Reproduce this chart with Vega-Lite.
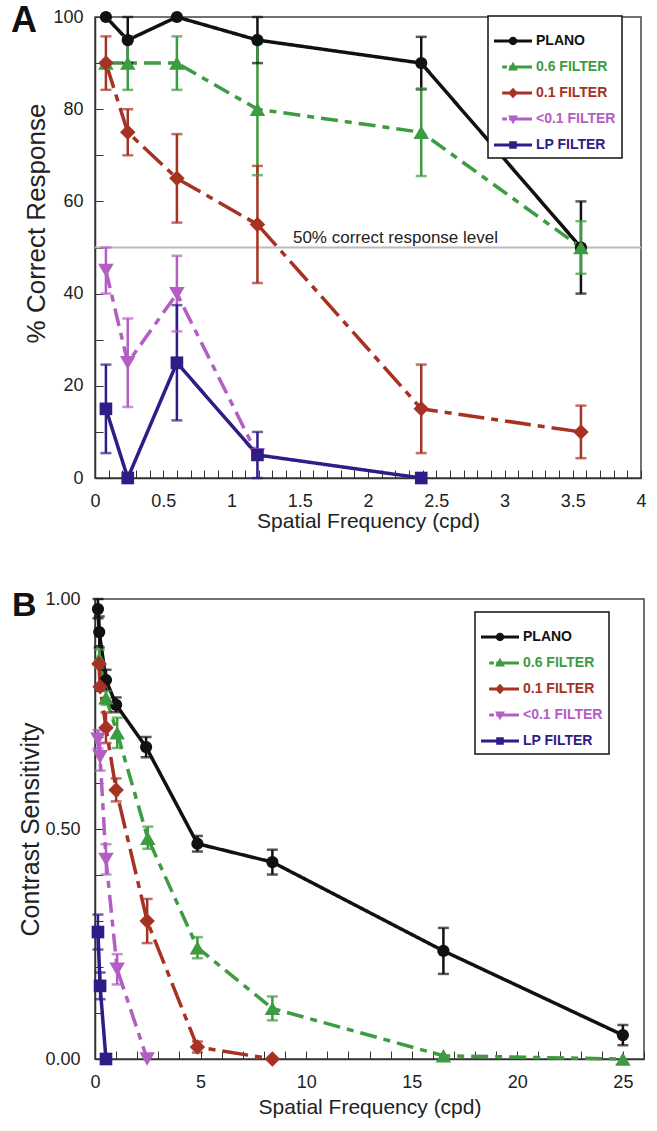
{
  "$schema": "https://vega.github.io/schema/vega-lite/v6.json",
  "padding": {"left": 10, "top": 2, "right": 5, "bottom": 3},
  "background": "white",
  "config": {
    "font": "Liberation Sans",
    "view": {"stroke": "#444444", "strokeWidth": 1.5},
    "axis": {"labelFont": "Liberation Sans", "titleFont": "Liberation Sans", "labelFontSize": 18, "labelColor": "#222222", "titleFontSize": 21, "titleFontWeight": "normal", "titleColor": "#222222", "domainColor": "#333333", "domainWidth": 1.5, "tickColor": "#333333", "tickWidth": 1, "tickSize": -8, "grid": false, "labelOverlap": false, "labelFlush": false, "labelBound": false}
  },
  "datasets": {
    "a": [
      {"series": "PLANO", "x": 0.08, "y": 100},
      {"series": "PLANO", "x": 0.24, "y": 95, "lo": 90, "hi": 100},
      {"series": "PLANO", "x": 0.6, "y": 100},
      {"series": "PLANO", "x": 1.19, "y": 95, "lo": 90, "hi": 100},
      {"series": "PLANO", "x": 2.39, "y": 90, "lo": 84.3, "hi": 95.7},
      {"series": "PLANO", "x": 3.56, "y": 50, "lo": 40, "hi": 60},
      {"series": "0.6 FILTER", "x": 0.08, "y": 90},
      {"series": "0.6 FILTER", "x": 0.24, "y": 90, "lo": 84.2, "hi": 95.8},
      {"series": "0.6 FILTER", "x": 0.6, "y": 90, "lo": 84.2, "hi": 95.8},
      {"series": "0.6 FILTER", "x": 1.19, "y": 80, "lo": 65.7, "hi": 94.3},
      {"series": "0.6 FILTER", "x": 2.39, "y": 75, "lo": 65.5, "hi": 84.5},
      {"series": "0.6 FILTER", "x": 3.56, "y": 50, "lo": 44.3, "hi": 55.7},
      {"series": "0.1 FILTER", "x": 0.08, "y": 90, "lo": 84.2, "hi": 95.8},
      {"series": "0.1 FILTER", "x": 0.24, "y": 75, "lo": 70, "hi": 80},
      {"series": "0.1 FILTER", "x": 0.6, "y": 65, "lo": 55.4, "hi": 74.6},
      {"series": "0.1 FILTER", "x": 1.19, "y": 55, "lo": 42.3, "hi": 67.7},
      {"series": "0.1 FILTER", "x": 2.39, "y": 15, "lo": 5.4, "hi": 24.6},
      {"series": "0.1 FILTER", "x": 3.56, "y": 10, "lo": 4.3, "hi": 15.7},
      {"series": "<0.1 FILTER", "x": 0.08, "y": 45, "lo": 40, "hi": 50},
      {"series": "<0.1 FILTER", "x": 0.24, "y": 25, "lo": 15.4, "hi": 34.6},
      {"series": "<0.1 FILTER", "x": 0.6, "y": 40, "lo": 31.8, "hi": 48.2},
      {"series": "<0.1 FILTER", "x": 1.19, "y": 5},
      {"series": "LP FILTER", "x": 0.08, "y": 15, "lo": 5.4, "hi": 24.6},
      {"series": "LP FILTER", "x": 0.24, "y": 0},
      {"series": "LP FILTER", "x": 0.6, "y": 25, "lo": 12.5, "hi": 37.5},
      {"series": "LP FILTER", "x": 1.19, "y": 5, "lo": 0, "hi": 10},
      {"series": "LP FILTER", "x": 2.39, "y": 0}
    ],
    "b": [
      {"series": "PLANO", "x": 0.14, "y": 0.978, "lo": 0.958, "hi": 1.0},
      {"series": "PLANO", "x": 0.2, "y": 0.928, "lo": 0.895, "hi": 0.962},
      {"series": "PLANO", "x": 0.52, "y": 0.824, "lo": 0.802, "hi": 0.846},
      {"series": "PLANO", "x": 1.0, "y": 0.77, "lo": 0.754, "hi": 0.786},
      {"series": "PLANO", "x": 2.42, "y": 0.678, "lo": 0.656, "hi": 0.7},
      {"series": "PLANO", "x": 4.85, "y": 0.468, "lo": 0.451, "hi": 0.485},
      {"series": "PLANO", "x": 8.4, "y": 0.428, "lo": 0.401, "hi": 0.455},
      {"series": "PLANO", "x": 16.5, "y": 0.235, "lo": 0.185, "hi": 0.285},
      {"series": "PLANO", "x": 25, "y": 0.052, "lo": 0.03, "hi": 0.074},
      {"series": "0.6 FILTER", "x": 0.2, "y": 0.87, "lo": 0.85, "hi": 0.89},
      {"series": "0.6 FILTER", "x": 0.52, "y": 0.785, "lo": 0.77, "hi": 0.8},
      {"series": "0.6 FILTER", "x": 1.05, "y": 0.709, "lo": 0.676, "hi": 0.742},
      {"series": "0.6 FILTER", "x": 2.5, "y": 0.48, "lo": 0.457, "hi": 0.505},
      {"series": "0.6 FILTER", "x": 4.85, "y": 0.242, "lo": 0.219, "hi": 0.265},
      {"series": "0.6 FILTER", "x": 8.4, "y": 0.11, "lo": 0.084, "hi": 0.136},
      {"series": "0.6 FILTER", "x": 16.5, "y": 0.007},
      {"series": "0.6 FILTER", "x": 25, "y": 0.0},
      {"series": "0.1 FILTER", "x": 0.19, "y": 0.859},
      {"series": "0.1 FILTER", "x": 0.24, "y": 0.809},
      {"series": "0.1 FILTER", "x": 0.52, "y": 0.72, "lo": 0.687, "hi": 0.753},
      {"series": "0.1 FILTER", "x": 1.0, "y": 0.585, "lo": 0.56, "hi": 0.61},
      {"series": "0.1 FILTER", "x": 2.47, "y": 0.3, "lo": 0.252, "hi": 0.348},
      {"series": "0.1 FILTER", "x": 4.85, "y": 0.026, "lo": 0.014, "hi": 0.038},
      {"series": "0.1 FILTER", "x": 8.4, "y": 0.0},
      {"series": "<0.1 FILTER", "x": 0.14, "y": 0.695, "lo": 0.675, "hi": 0.715},
      {"series": "<0.1 FILTER", "x": 0.24, "y": 0.657, "lo": 0.627, "hi": 0.687},
      {"series": "<0.1 FILTER", "x": 0.52, "y": 0.434, "lo": 0.401, "hi": 0.467},
      {"series": "<0.1 FILTER", "x": 1.05, "y": 0.195, "lo": 0.162, "hi": 0.228},
      {"series": "<0.1 FILTER", "x": 2.47, "y": 0.0},
      {"series": "LP FILTER", "x": 0.14, "y": 0.276, "lo": 0.238, "hi": 0.314},
      {"series": "LP FILTER", "x": 0.24, "y": 0.159, "lo": 0.13, "hi": 0.188},
      {"series": "LP FILTER", "x": 0.52, "y": 0.0}
    ]
  },
  "resolve": {"scale": {"color": "independent", "shape": "independent", "strokeDash": "independent", "stroke": "independent", "fill": "independent"}},
  "spacing": 56,
  "vconcat": [
    {
      "width": 546,
      "height": 461,
      "title": {"text": "A", "anchor": "start", "frame": "group", "orient": "top", "fontSize": 36, "fontWeight": "bold", "font": "Liberation Sans", "color": "#111111", "dx": -84, "dy": 23, "offset": -37, "baseline": "alphabetic"},
      "data": {"name": "a"},
      "encoding": {
        "x": {"field": "x", "type": "quantitative", "scale": {"domain": [0, 4], "nice": false, "zero": false},
          "axis": {"title": "Spatial Frequency (cpd)", "values": [0,0.1,0.2,0.3,0.4,0.5,0.6,0.7,0.8,0.9,1,1.1,1.2,1.3,1.4,1.5,1.6,1.7,1.8,1.9,2,2.1,2.2,2.3,2.4,2.5,2.6,2.7,2.8,2.9,3,3.1,3.2,3.3,3.4,3.5,3.6,3.7,3.8,3.9,4],
            "labelExpr": "abs(datum.value*2 - round(datum.value*2)) < 0.001 ? format(datum.value, '~g') : ''", "labelPadding": 22, "titlePadding": 0, "labelOverlap": false}}
      },
      "layer": [
        {"data": {"values": [{"ref": 50}]}, "mark": {"type": "rule", "color": "#bbbbbb", "strokeWidth": 2}, "encoding": {"x": null, "y": {"field": "ref", "type": "quantitative"}}},
        {"data": {"values": [{"label": "50% correct response level", "lx": 1.45, "ly": 50}]}, "mark": {"type": "text", "align": "left", "baseline": "alphabetic", "dy": -5, "fontSize": 17, "font": "Liberation Sans", "color": "#222222"}, "encoding": {"x": {"field": "lx", "type": "quantitative"}, "y": {"field": "ly", "type": "quantitative"}, "text": {"field": "label"}}},
        {"mark": {"type": "line", "strokeWidth": 3.5}, "encoding": {
          "y": {"field": "y", "type": "quantitative", "scale": {"domain": [0, 100], "nice": false},
            "axis": {"title": "% Correct Response", "titleFontSize": 26, "values": [0,5,10,15,20,25,30,35,40,45,50,55,60,65,70,75,80,85,90,95,100], "labelExpr": "datum.value % 20 === 0 ? datum.label : ''", "labelPadding": 20, "labelOverlap": false, "titleX": -59, "titleY": 206, "titleBaseline": "middle", "titleAngle": 270}},
          "stroke": {"field": "series", "type": "nominal", "scale": {"domain": ["LP FILTER", "<0.1 FILTER", "0.1 FILTER", "0.6 FILTER", "PLANO"], "range": ["#2f1c86", "#b25ec2", "#a53222", "#3d9b41", "#111111"]}, "legend": null},
          "strokeDash": {"field": "series", "type": "nominal", "scale": {"domain": ["LP FILTER", "<0.1 FILTER", "0.1 FILTER", "0.6 FILTER", "PLANO"], "range": [[1, 0], [18, 7, 7, 7], [26, 7, 7, 7], [17, 7, 7, 7], [1, 0]]}, "legend": null}}},
        {"transform": [{"filter": "isValid(datum.lo)"}], "mark": {"type": "rule", "strokeWidth": 2.5}, "encoding": {"y": {"field": "lo", "type": "quantitative"}, "y2": {"field": "hi"}, "stroke": {"field": "series", "type": "nominal", "legend": null}}},
        {"transform": [{"filter": "isValid(datum.lo)"}], "mark": {"type": "tick", "orient": "horizontal", "size": 11, "thickness": 2.5, "filled": true}, "encoding": {"y": {"field": "lo", "type": "quantitative"}, "fill": {"field": "series", "type": "nominal", "scale": {"domain": ["LP FILTER", "<0.1 FILTER", "0.1 FILTER", "0.6 FILTER", "PLANO"], "range": ["#2f1c86", "#b25ec2", "#a53222", "#3d9b41", "#111111"]}, "legend": null}}},
        {"transform": [{"filter": "isValid(datum.hi)"}], "mark": {"type": "tick", "orient": "horizontal", "size": 11, "thickness": 2.5, "filled": true}, "encoding": {"y": {"field": "hi", "type": "quantitative"}, "fill": {"field": "series", "type": "nominal", "legend": null}}},
        {"transform": [{"filter": "datum.series === 'PLANO'"}], "mark": {"type": "point", "shape": "circle", "filled": true, "size": 150, "opacity": 1, "strokeWidth": 0}, "encoding": {"y": {"field": "y", "type": "quantitative"}, "fill": {"field": "series", "type": "nominal", "legend": null}}},
        {"transform": [{"filter": "datum.series === '0.6 FILTER'"}], "mark": {"type": "point", "shape": "triangle-up", "filled": true, "size": 240, "opacity": 1, "strokeWidth": 0}, "encoding": {"y": {"field": "y", "type": "quantitative"}, "fill": {"field": "series", "type": "nominal", "legend": null}}},
        {"transform": [{"filter": "datum.series === '0.1 FILTER'"}], "mark": {"type": "point", "shape": "diamond", "filled": true, "size": 240, "opacity": 1, "strokeWidth": 0}, "encoding": {"y": {"field": "y", "type": "quantitative"}, "fill": {"field": "series", "type": "nominal", "legend": null}}},
        {"transform": [{"filter": "datum.series === '<0.1 FILTER'"}], "mark": {"type": "point", "shape": "triangle-down", "filled": true, "size": 240, "opacity": 1, "strokeWidth": 0}, "encoding": {"y": {"field": "y", "type": "quantitative"}, "fill": {"field": "series", "type": "nominal", "legend": null}}},
        {"transform": [{"filter": "datum.series === 'LP FILTER'"}], "mark": {"type": "point", "shape": "square", "filled": true, "size": 160, "opacity": 1, "strokeWidth": 0}, "encoding": {"y": {"field": "y", "type": "quantitative"}, "fill": {"field": "series", "type": "nominal", "legend": null}}},
        {"mark": {"type": "point", "filled": true, "size": 0},
          "encoding": {
            "y": {"field": "y", "type": "quantitative"},
            "color": {"field": "series", "type": "nominal", "scale": {"domain": ["PLANO", "0.6 FILTER", "0.1 FILTER", "<0.1 FILTER", "LP FILTER"], "range": ["#111111", "#3d9b41", "#a53222", "#b25ec2", "#2f1c86"]},
              "legend": {"title": null, "orient": "none", "legendX": 393, "legendY": -1, "fillColor": "white", "strokeColor": "#111111", "padding": 6, "labelFont": "Liberation Sans", "labelFontSize": 14, "labelFontWeight": "bold", "labelOffset": 4, "symbolSize": 1444, "symbolStrokeWidth": 0, "symbolOpacity": 1, "rowPadding": -10,
                "encode": {"legend": {"update": {"strokeWidth": {"value": 1.5}}}, "symbols": {"update": {"size": {"value": 1444}, "opacity": {"value": 1}}}, "labels": {"update": {"fill": [{"test": "datum.value === 'PLANO'", "value": "#111111"}, {"test": "datum.value === '0.6 FILTER'", "value": "#3d9b41"}, {"test": "datum.value === '0.1 FILTER'", "value": "#a53222"}, {"test": "datum.value === '<0.1 FILTER'", "value": "#b25ec2"}, {"value": "#2f1c86"}]}}}}},
            "shape": {"field": "series", "type": "nominal", "scale": {"domain": ["PLANO", "0.6 FILTER", "0.1 FILTER", "<0.1 FILTER", "LP FILTER"], "range": [
              "M-1,-0.08H1V0.08H-1Z M-0.22,0A0.22,0.22 0 1,1 0.22,0A0.22,0.22 0 1,1 -0.22,0Z",
              "M-0.57,-0.08H-0.32V0.08H-0.57Z M-0.2,-0.08H1V0.08H-0.2Z M0,-0.28L0.26,0.18L-0.26,0.18Z",
              "M-0.57,-0.08H1V0.08H-0.57Z M0,-0.28L0.26,0L0,0.28L-0.26,0Z",
              "M-0.57,-0.08H-0.32V0.08H-0.57Z M-0.2,-0.08H1V0.08H-0.2Z M-0.26,-0.18L0.26,-0.18L0,0.28Z",
              "M-1,-0.08H1V0.08H-1Z M-0.2,-0.2H0.2V0.2H-0.2Z"]},
              "legend": {"title": null, "orient": "none", "legendX": 393, "legendY": -1, "fillColor": "white", "strokeColor": "#111111", "padding": 6, "labelFont": "Liberation Sans", "labelFontSize": 14, "labelFontWeight": "bold", "labelOffset": 4, "symbolSize": 1444, "symbolStrokeWidth": 0, "symbolOpacity": 1, "rowPadding": -10,
                "encode": {"legend": {"update": {"strokeWidth": {"value": 1.5}}}, "symbols": {"update": {"size": {"value": 1444}, "opacity": {"value": 1}}}, "labels": {"update": {"fill": [{"test": "datum.value === 'PLANO'", "value": "#111111"}, {"test": "datum.value === '0.6 FILTER'", "value": "#3d9b41"}, {"test": "datum.value === '0.1 FILTER'", "value": "#a53222"}, {"test": "datum.value === '<0.1 FILTER'", "value": "#b25ec2"}, {"value": "#2f1c86"}]}}}}}
          }}
      ]
    },
    {
      "width": 549,
      "height": 460,
      "title": {"text": "B", "anchor": "start", "frame": "group", "orient": "top", "fontSize": 34, "fontWeight": "bold", "font": "Liberation Sans", "color": "#111111", "dx": -83, "dy": 23, "offset": -37, "baseline": "alphabetic"},
      "data": {"name": "b"},
      "encoding": {
        "x": {"field": "x", "type": "quantitative", "scale": {"domain": [0, 26], "nice": false, "zero": false},
          "axis": {"title": "Spatial Frequency (cpd)", "values": [0,1,2,3,4,5,6,7,8,9,10,11,12,13,14,15,16,17,18,19,20,21,22,23,24,25,26],
            "labelExpr": "datum.value % 5 === 0 && datum.value <= 25 ? datum.label : ''", "labelPadding": 22, "titlePadding": 5, "labelOverlap": false}}
      },
      "layer": [
        {"mark": {"type": "line", "strokeWidth": 3.5}, "encoding": {
          "y": {"field": "y", "type": "quantitative", "scale": {"domain": [0, 1], "nice": false},
            "axis": {"title": "Contrast Sensitivity", "titleFontSize": 25, "values": [0,0.05,0.1,0.15,0.2,0.25,0.3,0.35,0.4,0.45,0.5,0.55,0.6,0.65,0.7,0.75,0.8,0.85,0.9,0.95,1], "labelExpr": "abs(datum.value*4 - round(datum.value*4)) < 0.001 ? format(datum.value, '.2f') : ''", "labelPadding": 23, "labelOverlap": false, "titleX": -65, "titleBaseline": "middle", "titleAngle": 270}},
          "stroke": {"field": "series", "type": "nominal", "scale": {"domain": ["LP FILTER", "<0.1 FILTER", "0.1 FILTER", "0.6 FILTER", "PLANO"], "range": ["#2f1c86", "#b25ec2", "#a53222", "#3d9b41", "#111111"]}, "legend": null},
          "strokeDash": {"field": "series", "type": "nominal", "scale": {"domain": ["LP FILTER", "<0.1 FILTER", "0.1 FILTER", "0.6 FILTER", "PLANO"], "range": [[1, 0], [18, 7, 7, 7], [26, 7, 7, 7], [17, 7, 7, 7], [1, 0]]}, "legend": null}}},
        {"transform": [{"filter": "isValid(datum.lo)"}], "mark": {"type": "rule", "strokeWidth": 2.5}, "encoding": {"y": {"field": "lo", "type": "quantitative"}, "y2": {"field": "hi"}, "stroke": {"field": "series", "type": "nominal", "legend": null}}},
        {"transform": [{"filter": "isValid(datum.lo)"}], "mark": {"type": "tick", "orient": "horizontal", "size": 11, "thickness": 2.5, "filled": true}, "encoding": {"y": {"field": "lo", "type": "quantitative"}, "fill": {"field": "series", "type": "nominal", "scale": {"domain": ["LP FILTER", "<0.1 FILTER", "0.1 FILTER", "0.6 FILTER", "PLANO"], "range": ["#2f1c86", "#b25ec2", "#a53222", "#3d9b41", "#111111"]}, "legend": null}}},
        {"transform": [{"filter": "isValid(datum.hi)"}], "mark": {"type": "tick", "orient": "horizontal", "size": 11, "thickness": 2.5, "filled": true}, "encoding": {"y": {"field": "hi", "type": "quantitative"}, "fill": {"field": "series", "type": "nominal", "legend": null}}},
        {"transform": [{"filter": "datum.series === 'PLANO'"}], "mark": {"type": "point", "shape": "circle", "filled": true, "size": 150, "opacity": 1, "strokeWidth": 0}, "encoding": {"y": {"field": "y", "type": "quantitative"}, "fill": {"field": "series", "type": "nominal", "legend": null}}},
        {"transform": [{"filter": "datum.series === '0.6 FILTER'"}], "mark": {"type": "point", "shape": "triangle-up", "filled": true, "size": 240, "opacity": 1, "strokeWidth": 0}, "encoding": {"y": {"field": "y", "type": "quantitative"}, "fill": {"field": "series", "type": "nominal", "legend": null}}},
        {"transform": [{"filter": "datum.series === '0.1 FILTER'"}], "mark": {"type": "point", "shape": "diamond", "filled": true, "size": 240, "opacity": 1, "strokeWidth": 0}, "encoding": {"y": {"field": "y", "type": "quantitative"}, "fill": {"field": "series", "type": "nominal", "legend": null}}},
        {"transform": [{"filter": "datum.series === '<0.1 FILTER'"}], "mark": {"type": "point", "shape": "triangle-down", "filled": true, "size": 240, "opacity": 1, "strokeWidth": 0}, "encoding": {"y": {"field": "y", "type": "quantitative"}, "fill": {"field": "series", "type": "nominal", "legend": null}}},
        {"transform": [{"filter": "datum.series === 'LP FILTER'"}], "mark": {"type": "point", "shape": "square", "filled": true, "size": 160, "opacity": 1, "strokeWidth": 0}, "encoding": {"y": {"field": "y", "type": "quantitative"}, "fill": {"field": "series", "type": "nominal", "legend": null}}},
        {"mark": {"type": "point", "filled": true, "size": 0},
          "encoding": {
            "y": {"field": "y", "type": "quantitative"},
            "color": {"field": "series", "type": "nominal", "scale": {"domain": ["PLANO", "0.6 FILTER", "0.1 FILTER", "<0.1 FILTER", "LP FILTER"], "range": ["#111111", "#3d9b41", "#a53222", "#b25ec2", "#2f1c86"]},
              "legend": {"title": null, "orient": "none", "legendX": 380, "legendY": 13, "fillColor": "white", "strokeColor": "#111111", "padding": 6, "labelFont": "Liberation Sans", "labelFontSize": 14, "labelFontWeight": "bold", "labelOffset": 4, "symbolSize": 1444, "symbolStrokeWidth": 0, "symbolOpacity": 1, "rowPadding": -10,
                "encode": {"legend": {"update": {"strokeWidth": {"value": 1.5}}}, "symbols": {"update": {"size": {"value": 1444}, "opacity": {"value": 1}}}, "labels": {"update": {"fill": [{"test": "datum.value === 'PLANO'", "value": "#111111"}, {"test": "datum.value === '0.6 FILTER'", "value": "#3d9b41"}, {"test": "datum.value === '0.1 FILTER'", "value": "#a53222"}, {"test": "datum.value === '<0.1 FILTER'", "value": "#b25ec2"}, {"value": "#2f1c86"}]}}}}},
            "shape": {"field": "series", "type": "nominal", "scale": {"domain": ["PLANO", "0.6 FILTER", "0.1 FILTER", "<0.1 FILTER", "LP FILTER"], "range": [
              "M-1,-0.08H1V0.08H-1Z M-0.22,0A0.22,0.22 0 1,1 0.22,0A0.22,0.22 0 1,1 -0.22,0Z",
              "M-0.57,-0.08H-0.32V0.08H-0.57Z M-0.2,-0.08H1V0.08H-0.2Z M0,-0.28L0.26,0.18L-0.26,0.18Z",
              "M-0.57,-0.08H1V0.08H-0.57Z M0,-0.28L0.26,0L0,0.28L-0.26,0Z",
              "M-0.57,-0.08H-0.32V0.08H-0.57Z M-0.2,-0.08H1V0.08H-0.2Z M-0.26,-0.18L0.26,-0.18L0,0.28Z",
              "M-1,-0.08H1V0.08H-1Z M-0.2,-0.2H0.2V0.2H-0.2Z"]},
              "legend": {"title": null, "orient": "none", "legendX": 380, "legendY": 13, "fillColor": "white", "strokeColor": "#111111", "padding": 6, "labelFont": "Liberation Sans", "labelFontSize": 14, "labelFontWeight": "bold", "labelOffset": 4, "symbolSize": 1444, "symbolStrokeWidth": 0, "symbolOpacity": 1, "rowPadding": -10,
                "encode": {"legend": {"update": {"strokeWidth": {"value": 1.5}}}, "symbols": {"update": {"size": {"value": 1444}, "opacity": {"value": 1}}}, "labels": {"update": {"fill": [{"test": "datum.value === 'PLANO'", "value": "#111111"}, {"test": "datum.value === '0.6 FILTER'", "value": "#3d9b41"}, {"test": "datum.value === '0.1 FILTER'", "value": "#a53222"}, {"test": "datum.value === '<0.1 FILTER'", "value": "#b25ec2"}, {"value": "#2f1c86"}]}}}}}
          }}
      ]
    }
  ]
}
